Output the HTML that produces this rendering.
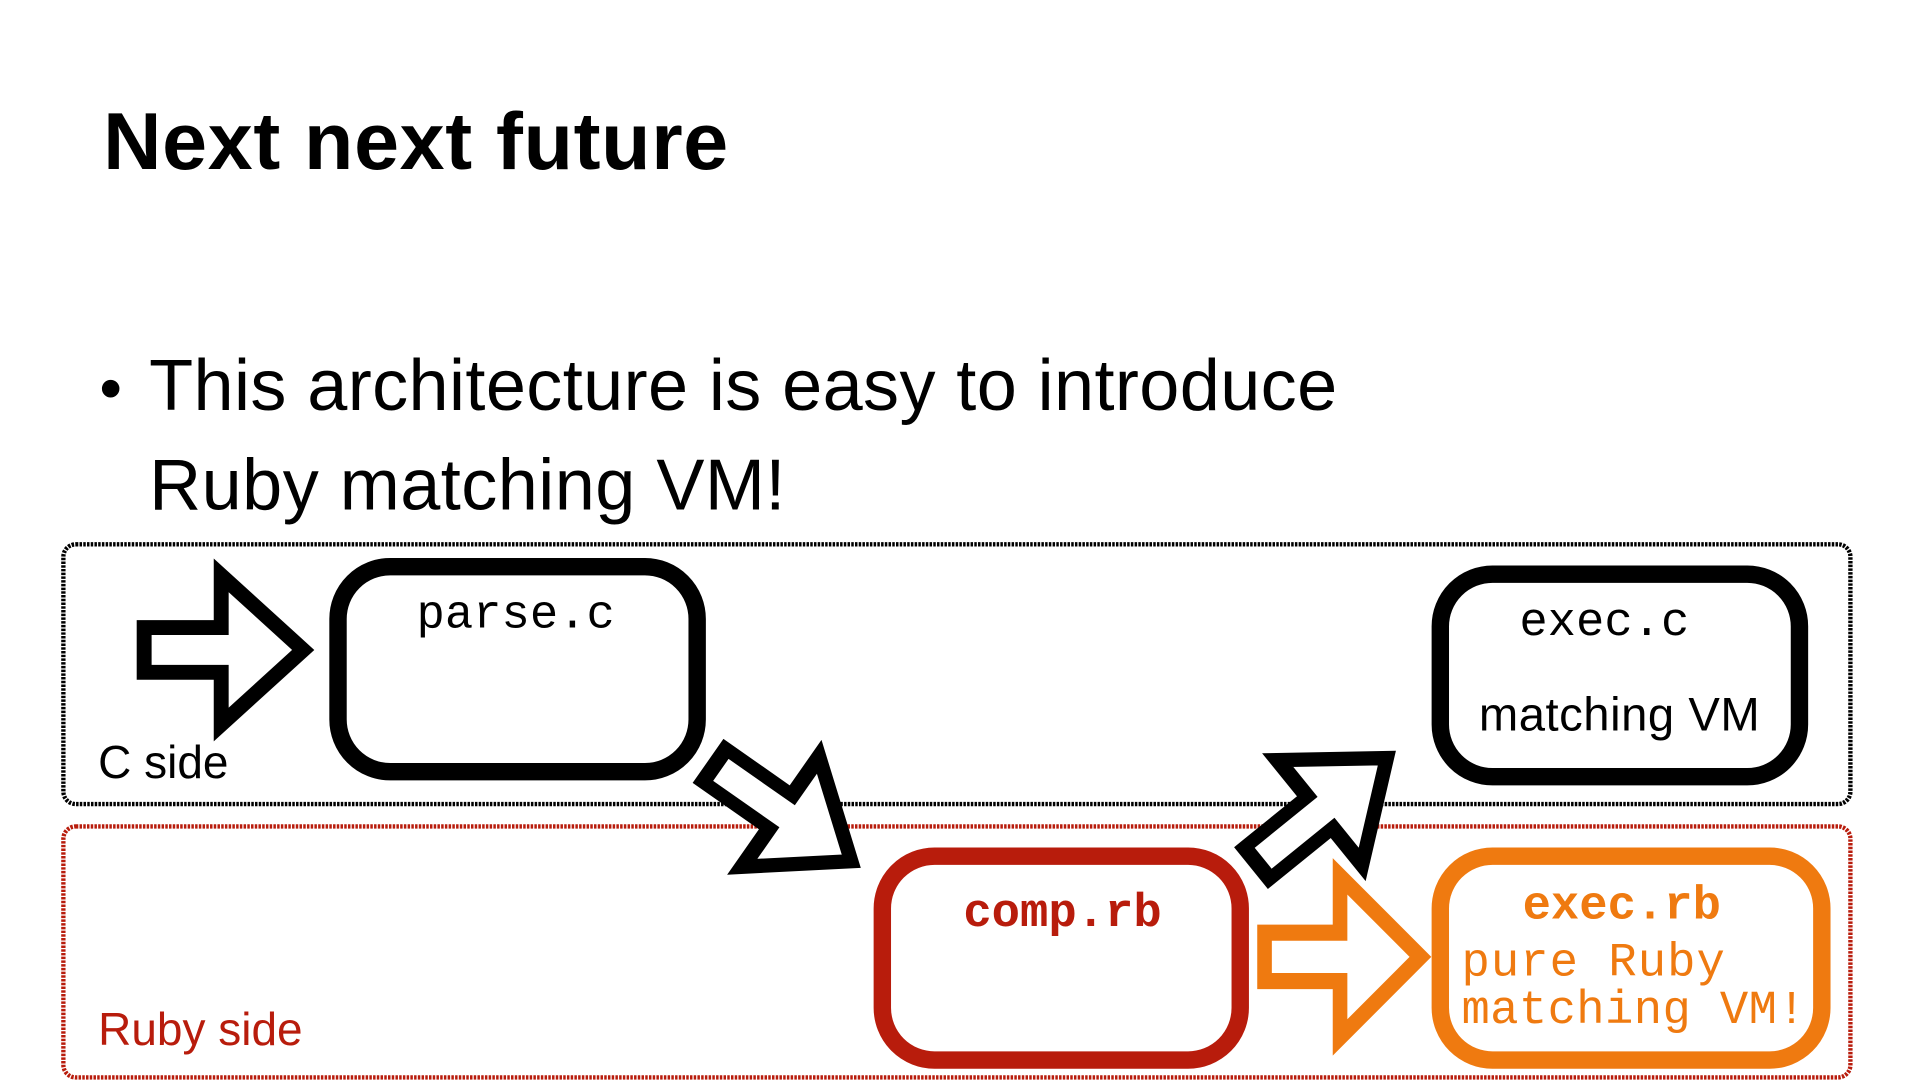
<!DOCTYPE html>
<html><head><meta charset="utf-8"><style>
html,body{margin:0;padding:0;background:#fff;width:1920px;height:1080px;overflow:hidden}
#s{position:absolute;left:0;top:0;width:1545px;height:869px;transform:scale(1.24272);transform-origin:0 0}
</style></head><body><div id="s">
<svg width="1545" height="869" viewBox="0 0 1545 869" xmlns="http://www.w3.org/2000/svg">
<text x="83" y="136" font-family="Liberation Sans, sans-serif" font-weight="bold" font-size="65" fill="#000" textLength="503">Next next future</text>
<text x="80" y="330" font-family="Liberation Sans, sans-serif" font-size="52" fill="#000">•</text>
<text x="120" y="330" font-family="Liberation Sans, sans-serif" font-size="58" fill="#000" textLength="956">This architecture is easy to introduce</text>
<text x="120" y="410" font-family="Liberation Sans, sans-serif" font-size="58" fill="#000" textLength="512">Ruby matching VM!</text>
<rect x="51" y="438" width="1438" height="209" rx="10" fill="none" stroke="#000" stroke-width="3.5" stroke-dasharray="2 1"/>
<rect x="51" y="665" width="1438" height="202" rx="10" fill="none" stroke="#b81c0c" stroke-width="3.5" stroke-dasharray="2 1"/>
<text x="79" y="626" font-family="Liberation Sans, sans-serif" font-size="37" fill="#000">C side</text>
<text x="79" y="841" font-family="Liberation Sans, sans-serif" font-size="37" fill="#b81c0c">Ruby side</text>
<rect x="272" y="456" width="289" height="165" rx="42" fill="#fff" stroke="#000" stroke-width="14"/>
<text x="415" y="505" text-anchor="middle" font-family="Liberation Mono, monospace" font-size="38" fill="#000">parse.c</text>
<rect x="1159" y="462" width="289" height="163" rx="42" fill="#fff" stroke="#000" stroke-width="14"/>
<text x="1291" y="511" text-anchor="middle" font-family="Liberation Mono, monospace" font-size="38" fill="#000">exec.c</text>
<text x="1190" y="588" font-family="Liberation Sans, sans-serif" font-size="38" fill="#000" textLength="226">matching VM</text>
<rect x="710" y="689" width="288" height="164" rx="42" fill="#fff" stroke="#b81c0c" stroke-width="14"/>
<text x="855" y="745" text-anchor="middle" font-family="Liberation Mono, monospace" font-weight="bold" font-size="38" fill="#b81c0c">comp.rb</text>
<rect x="1159" y="689" width="307" height="164" rx="42" fill="#fff" stroke="#ef7a10" stroke-width="14"/>
<text x="1305" y="739" text-anchor="middle" font-family="Liberation Mono, monospace" font-weight="bold" font-size="38" fill="#ef7a10">exec.rb</text>
<text x="1176" y="785" font-family="Liberation Mono, monospace" font-size="38" fill="#ef7a10" textLength="212">pure Ruby</text>
<text x="1176" y="823" font-family="Liberation Mono, monospace" font-size="38" fill="#ef7a10" textLength="277">matching VM!</text>
<defs><polygon id="ar" points="-128,-18 -66,-18 -66,-60 0,0 -66,60 -66,18 -128,18"/></defs>
<use href="#ar" transform="translate(244,523)" fill="#fff" stroke="#000" stroke-width="12" stroke-linejoin="miter"/>
<use href="#ar" transform="translate(685,693) rotate(35) scale(1.05,0.9)" fill="#fff" stroke="#000" stroke-width="12"/>
<use href="#ar" transform="translate(1116,610) rotate(-39) scale(1.05,0.9)" fill="#fff" stroke="#000" stroke-width="12"/>
<use href="#ar" transform="translate(1143,770) scale(0.98,1.08)" fill="#fff" stroke="#ef7a10" stroke-width="12"/>
</svg>
</div></body></html>
